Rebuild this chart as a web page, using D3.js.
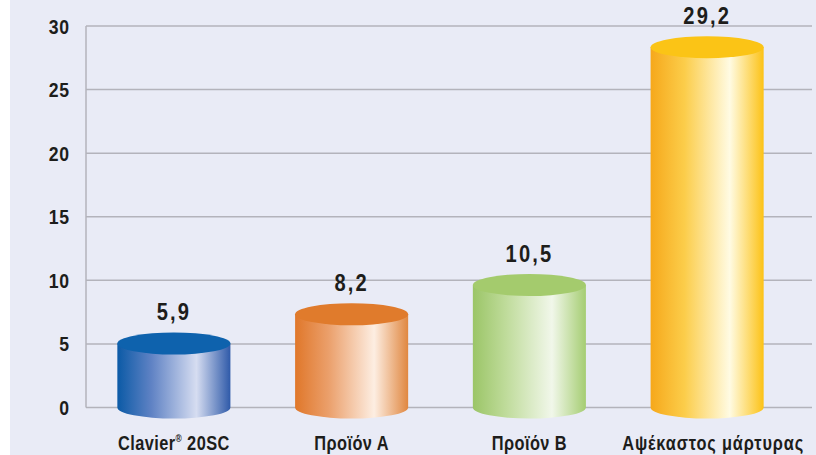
<!DOCTYPE html>
<html>
<head>
<meta charset="utf-8">
<script src="https://cdn.jsdelivr.net/npm/d3@7"></script>
<style>
  body { margin: 0; background: #fff; }
  svg text { font-family: "Liberation Sans", Arial, sans-serif; fill: #1d1d1b; font-weight: bold; }
</style>
</head>
<body>
<div id="chart"></div>
<script>
// data
const categories = ['Clavier® 20SC', 'Προϊόν Α', 'Προϊόν Β', 'Αψέκαστος μάρτυρας'];
const values = [5.9, 8.2, 10.5, 29.2];
const valueLabels = ['5,9', '8,2', '10,5', '29,2'];
const yTicks = [0, 5, 10, 15, 20, 25, 30];

// colours per bar: left edge, mid, light, right edge + top
const palettes = [
  { stops: ['#0b5aa6', '#5f82c4', '#d6ddf1', '#2f5aa9'], top: '#0e62ad' },
  { stops: ['#e0772a', '#eba06c', '#fdeee2', '#e08740'], top: '#e07b2c' },
  { stops: ['#9bc567', '#c0dc9c', '#f1f7ea', '#a5cd72'], top: '#a4cb6d' },
  { stops: ['#f6a81b', '#fccd4a', '#fffbe3', '#fcc216'], top: '#fbc416' }
];

const width = 816, height = 455;
const squeeze = 0.84; // condensed look

const svg = d3.select('#chart').append('svg')
  .attr('width', width)
  .attr('height', height);

// background panel
svg.append('rect')
  .attr('x', 10).attr('y', 0)
  .attr('width', width - 10).attr('height', height)
  .attr('fill', '#e9ebf6');

const y = d3.scaleLinear().domain([0, 30]).range([407.5, 26]);
const x = d3.scaleBand()
  .domain(categories)
  .range([85, 796])
  .paddingInner(0.364)
  .paddingOuter(0.182);

// gridlines
svg.append('g').selectAll('line')
  .data(yTicks)
  .join('line')
  .attr('x1', 86).attr('x2', 812)
  .attr('y1', d => y(d)).attr('y2', d => y(d))
  .attr('stroke', '#b3b3bb')
  .attr('stroke-width', 1.5);

// y axis line
svg.append('line')
  .attr('x1', 86).attr('x2', 86)
  .attr('y1', y(30)).attr('y2', y(0))
  .attr('stroke', '#b3b3bb')
  .attr('stroke-width', 1.5);

// y tick labels
svg.append('g').selectAll('g')
  .data(yTicks)
  .join('g')
  .attr('transform', d => `translate(70,${y(d)}) scale(${squeeze},1)`)
  .append('text')
  .attr('dy', '0.36em')
  .attr('text-anchor', 'end')
  .attr('font-size', 21)
  .attr('letter-spacing', 1)
  .text(d => d);

// gradients
const defs = svg.append('defs');
palettes.forEach((p, i) => {
  const g = defs.append('linearGradient')
    .attr('id', 'grad' + i)
    .attr('x1', 0).attr('x2', 1).attr('y1', 0).attr('y2', 0);
  [0, 0.3, 0.7, 1].forEach((o, j) => {
    g.append('stop').attr('offset', o).attr('stop-color', p.stops[j]);
  });
});

// cylinders
const ry = 11;
const rx = x.bandwidth() / 2;
const bars = svg.append('g').selectAll('g')
  .data(categories.map((c, i) => ({ cat: c, value: values[i], label: valueLabels[i], i })))
  .join('g');

bars.append('path')
  .attr('fill', d => `url(#grad${d.i})`)
  .attr('d', d => {
    const cx = x(d.cat) + rx;
    const top = y(d.value) + ry;
    const bot = y(0);
    return `M${cx - rx},${top} L${cx - rx},${bot} A${rx},${ry} 0 0 0 ${cx + rx},${bot} L${cx + rx},${top} Z`;
  });

bars.append('ellipse')
  .attr('cx', d => x(d.cat) + rx)
  .attr('cy', d => y(d.value) + ry)
  .attr('rx', rx)
  .attr('ry', ry)
  .attr('fill', d => palettes[d.i].top);

// value labels
bars.append('g')
  .attr('transform', d => `translate(${x(d.cat) + rx},${y(d.value) - 12}) scale(${squeeze},1)`)
  .append('text')
  .attr('text-anchor', 'middle')
  .attr('font-size', 24)
  .attr('letter-spacing', 2.5)
  .text(d => d.label);

// category labels (® as superscript)
const catText = bars.append('g')
  .attr('transform', d => `translate(${x(d.cat) + rx + (d.i === 3 ? 6 : 0)},449.5) scale(${squeeze},1)`)
  .append('text')
  .attr('text-anchor', 'middle')
  .attr('font-size', 19.5)
  .attr('letter-spacing', d => d.i === 3 ? 1 : 0.5);

catText.each(function(d) {
  const t = d3.select(this);
  const parts = d.cat.split('®');
  t.append('tspan').text(parts[0]);
  if (parts.length > 1) {
    t.append('tspan').attr('font-size', 10).attr('dy', -8).text('®');
    t.append('tspan').attr('dy', 8).text(parts[1]);
  }
});
</script>
</body>
</html>
